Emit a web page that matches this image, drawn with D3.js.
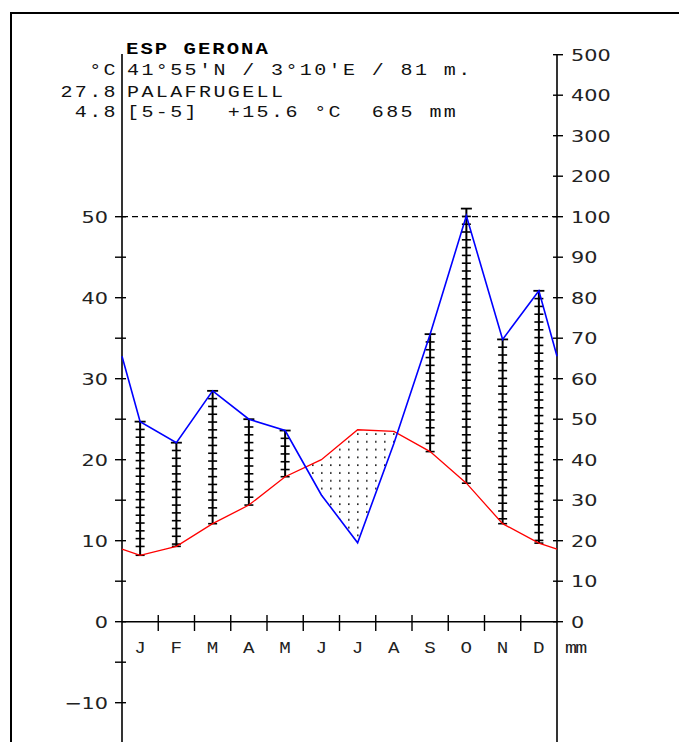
<!DOCTYPE html>
<html><head><meta charset="utf-8">
<script src="https://cdn.jsdelivr.net/npm/d3@7"></script>
<style>html,body{margin:0;padding:0;background:#fff;}svg{display:block;}</style>
</head><body>
<svg id="c" width="679" height="742"></svg>
<script>
// ---- data ----
const months = ["J","F","M","A","M","J","J","A","S","O","N","D"];
const temperature = [8.2, 9.3, 12.1, 14.4, 17.9, 20.0, 23.7, 23.5, 21.0, 17.1, 12.1, 9.7];
const precipitation = [49.4, 44.2, 57, 50, 47.2, 31.3, 19.5, 44, 71, 102, 69.7, 81.7];
const tempMajorTicks = [-10, 0, 10, 20, 30, 40, 50];
const tempMinorTicks = [-5, 5, 15, 25, 35, 45];
const precipTicks = [0, 10, 20, 30, 40, 50, 60, 70, 80, 90, 100, 200, 300, 400, 500];
const stationTitle = "ESP GERONA";
const headerLeft = ["°C", "27.8", "4.8"];
const headerRight = ["41°55'N / 3°10'E / 81 m.", "PALAFRUGELL", "[5-5]  +15.6 °C  685 mm"];
const precipUnit = "mm";

// ---- layout ----
const svg = d3.select("#c");
const W = 679, H = 742;
const x0 = 122, x1 = 557;
const yT = d3.scaleLinear().domain([0, 50]).range([621.7, 216.7]);
const yP = d3.scaleLinear().domain([0, 100, 500]).range([yT(0), yT(50), yT(70)]);
const xM = d3.scaleBand().domain(d3.range(12)).range([x0, x1]);
const cx = i => xM(i) + xM.bandwidth() / 2;

const mono = "'Liberation Mono', 'DejaVu Sans Mono', monospace";
const sans = "'DejaVu Sans', sans-serif";

// frame
svg.append("line").attr("x1", 10).attr("x2", W).attr("y1", 13).attr("y2", 13).attr("stroke", "#000").attr("stroke-width", 2);
svg.append("line").attr("x1", 11).attr("x2", 11).attr("y1", 12).attr("y2", H).attr("stroke", "#000").attr("stroke-width", 2);

// dot pattern
const defs = svg.append("defs");
const pat = defs.append("pattern").attr("id", "dots").attr("patternUnits", "userSpaceOnUse")
  .attr("width", 9).attr("height", 7.8).attr("x", 2).attr("y", 1);
pat.append("rect").attr("x", 4).attr("y", 3.2).attr("width", 1.6).attr("height", 1.6).attr("fill", "#111");

// extended series with edge values
const tEdge = (temperature[0] + temperature[11]) / 2;
const pEdge = (precipitation[0] + precipitation[11]) / 2;
const pts = [{x: x0, t: yT(tEdge), p: yP(pEdge)}]
  .concat(temperature.map((v, i) => ({x: cx(i), t: yT(v), p: yP(precipitation[i])})))
  .concat([{x: x1, t: yT(tEdge), p: yP(pEdge)}]);

// arid polygons (blue below red => p pixel > t pixel)
const polys = [];
let cur = null;
for (let i = 0; i < pts.length; i++) {
  const a = pts[i];
  const d = a.p - a.t;
  if (i > 0) {
    const b = pts[i - 1];
    const db = b.p - b.t;
    if ((db > 0) !== (d > 0)) {
      const f = db / (db - d);
      const xi = b.x + f * (a.x - b.x);
      const yi = b.t + f * (a.t - b.t);
      if (cur) { cur.push({x: xi, t: yi, p: yi}); polys.push(cur); cur = null; }
      else { cur = [{x: xi, t: yi, p: yi}]; }
    }
  }
  if (d > 0) { if (!cur) cur = []; cur.push(a); }
}
if (cur) polys.push(cur);
polys.forEach(pl => {
  const top = pl.map(q => [q.x, q.t]);
  const bot = pl.slice().reverse().map(q => [q.x, q.p]);
  svg.append("path").attr("d", d3.line()(top.concat(bot)) + "Z").attr("fill", "url(#dots)").attr("stroke", "none");
});

// humid columns
const colG = svg.append("g").attr("stroke", "#000");
temperature.forEach((t, i) => {
  const p = precipitation[i];
  if (yP(p) >= yT(t)) return;
  const x = cx(i), yb = yT(t), yt = yT(p / 2);
  colG.append("line").attr("x1", x).attr("x2", x).attr("y1", yt).attr("y2", yb).attr("stroke-width", 2);
  colG.append("line").attr("x1", x - 5.5).attr("x2", x + 5.5).attr("y1", yt).attr("y2", yt).attr("stroke-width", 1.8);
  for (let y = yt + 7.8; y < yb - 2; y += 7.8) {
    colG.append("line").attr("x1", x - 4.5).attr("x2", x + 4.5).attr("y1", y).attr("y2", y).attr("stroke-width", 1.6);
  }
  colG.append("line").attr("x1", x - 4.5).attr("x2", x + 4.5).attr("y1", yb).attr("y2", yb).attr("stroke-width", 1.6);
});

// dashed 100 mm line
svg.append("line").attr("x1", x0).attr("x2", x1).attr("y1", yT(50)).attr("y2", yT(50))
  .attr("stroke", "#000").attr("stroke-width", 1.2).attr("stroke-dasharray", "6,4");

// left axis
svg.append("line").attr("x1", x0).attr("x2", x0).attr("y1", 54).attr("y2", H).attr("stroke", "#000").attr("stroke-width", 1.6);
tempMajorTicks.concat(tempMinorTicks).forEach(v => {
  svg.append("line").attr("x1", 115).attr("x2", 126).attr("y1", yT(v)).attr("y2", yT(v)).attr("stroke", "#000").attr("stroke-width", 1.4);
});
tempMajorTicks.forEach(v => {
  svg.append("g").attr("transform", `translate(108,${yT(v) + 6}) scale(1.3,1)`)
    .append("text").attr("text-anchor", "end").attr("font-family", sans).attr("font-size", 16).attr("fill", "#222")
    .text(v < 0 ? "\u2212" + Math.abs(v) : v);
});

// right axis
svg.append("line").attr("x1", x1).attr("x2", x1).attr("y1", yP(500)).attr("y2", H).attr("stroke", "#000").attr("stroke-width", 1.6);
precipTicks.forEach(v => {
  svg.append("line").attr("x1", 553).attr("x2", 563).attr("y1", yP(v)).attr("y2", yP(v)).attr("stroke", "#000").attr("stroke-width", 1.4);
  svg.append("g").attr("transform", `translate(571,${yP(v) + 6}) scale(1.3,1)`)
    .append("text").attr("font-family", sans).attr("font-size", 16).attr("fill", "#222").text(v);
});

// x axis
svg.append("line").attr("x1", x0).attr("x2", x1).attr("y1", yT(0)).attr("y2", yT(0)).attr("stroke", "#000").attr("stroke-width", 1.6);
d3.range(1, 12).forEach(i => {
  svg.append("line").attr("x1", xM(i)).attr("x2", xM(i)).attr("y1", 615).attr("y2", 631).attr("stroke", "#000").attr("stroke-width", 1.4);
});
months.forEach((m, i) => {
  svg.append("g").attr("transform", `translate(${cx(i)},653) scale(1.2,1)`)
    .append("text").attr("text-anchor", "middle").attr("font-family", mono).attr("font-size", 16).attr("fill", "#222").text(m);
});
svg.append("g").attr("transform", `translate(565,653) scale(1.25,1)`)
  .append("text").attr("font-family", mono).attr("font-size", 16).attr("letter-spacing", -1.5).attr("fill", "#222").text(precipUnit);

// header
const sx = 1.25, ls = 14.4 / sx - 9.6;
svg.append("g").attr("transform", `translate(126,54) scale(${sx},1)`)
  .append("text").attr("font-family", mono).attr("font-size", 16.5).attr("font-weight", "bold").attr("letter-spacing", ls - 0.3)
  .attr("fill", "#000").attr("xml:space", "preserve").text(stationTitle);
const baselines = [75, 96.5, 117];
headerLeft.forEach((s, i) => {
  svg.append("g").attr("transform", `translate(118,${baselines[i]}) scale(${sx},1)`)
    .append("text").attr("text-anchor", "end").attr("font-family", mono).attr("font-size", 16).attr("letter-spacing", ls)
    .attr("fill", "#111").text(s);
});
headerRight.forEach((s, i) => {
  svg.append("g").attr("transform", `translate(127,${baselines[i]}) scale(${sx},1)`)
    .append("text").attr("font-family", mono).attr("font-size", 16).attr("letter-spacing", ls)
    .attr("fill", "#111").attr("xml:space", "preserve").style("white-space", "pre").text(s);
});

// temperature and precipitation lines
svg.append("path").attr("d", d3.line().x(d => d.x).y(d => d.t)(pts)).attr("fill", "none").attr("stroke", "#ff0000").attr("stroke-width", 1.3);
svg.append("path").attr("d", d3.line().x(d => d.x).y(d => d.p)(pts)).attr("fill", "none").attr("stroke", "#0000ff").attr("stroke-width", 1.6);
</script>
</body></html>
